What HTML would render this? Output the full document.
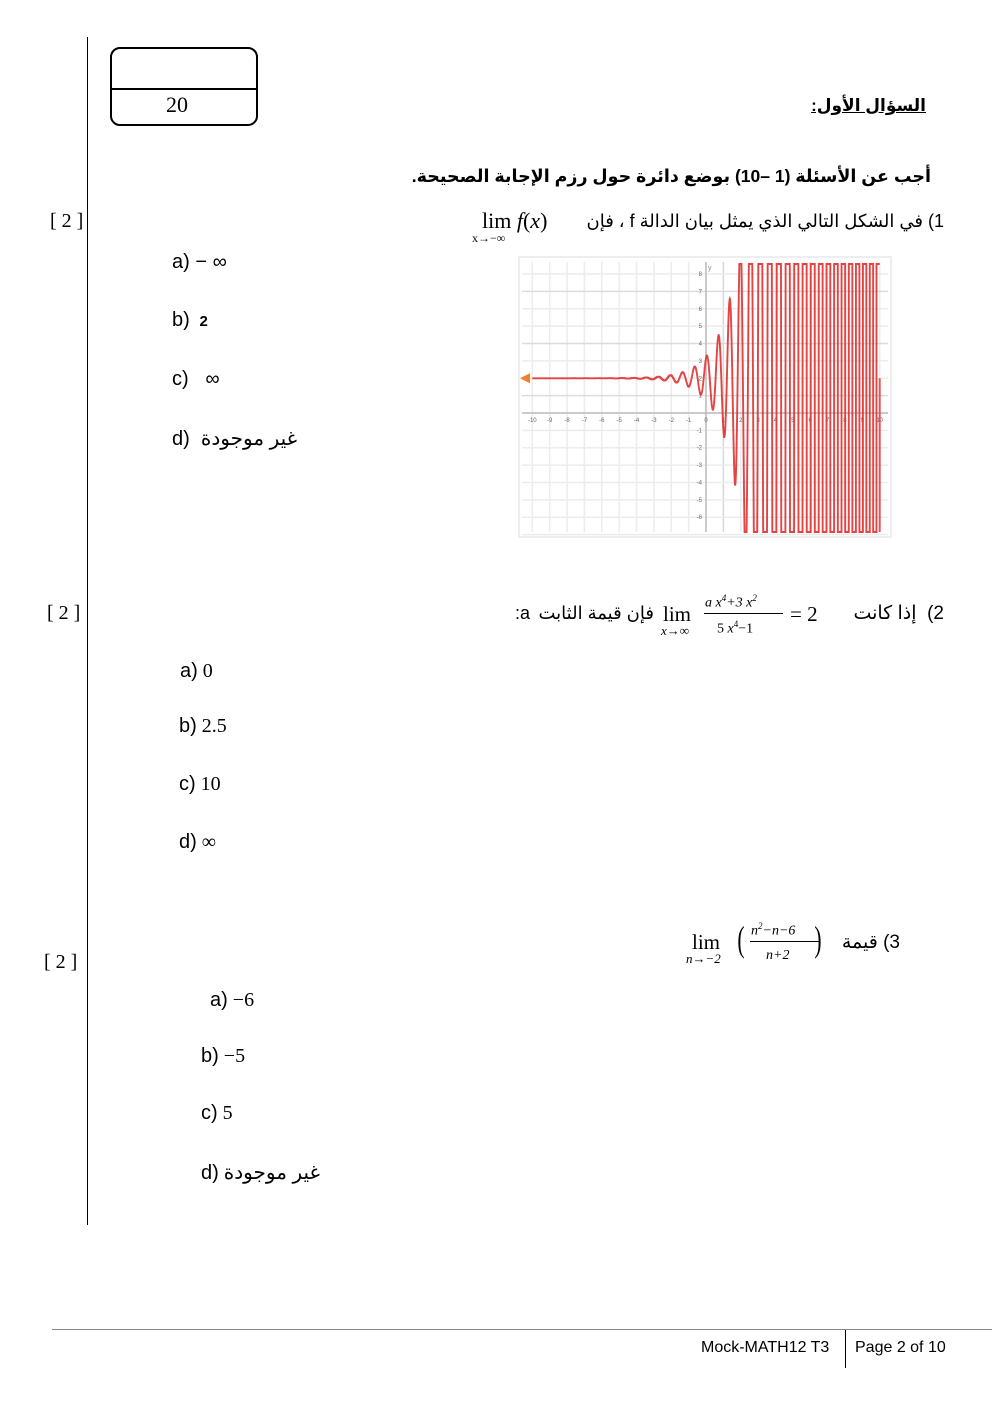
<!DOCTYPE html>
<html><head><meta charset="utf-8"><style>
body{margin:0;width:992px;height:1403px;background:#fff;position:relative;font-family:"Liberation Serif","Noto Sans CJK SC",serif;color:#000;overflow:hidden}
.a{position:absolute;white-space:nowrap}
.s{font-family:"Liberation Sans","DejaVu Sans",sans-serif}
.opt{font-size:20px}
</style></head><body>
<div class="a" style="left:87px;top:37px;width:1px;height:1188px;background:#000"></div>
<div class="a" style="left:110px;top:47px;width:144px;height:75px;border:2px solid #000;border-radius:10px"></div>
<div class="a" style="left:111px;top:88px;width:146px;height:2px;background:#000"></div>
<div class="a" style="left:166px;top:92px;font-size:22px">20</div>

<div class="a s" dir="rtl" style="right:66px;top:96px;font-size:17px;font-weight:bold;text-decoration:underline">السؤال الأول:</div>
<div class="a s" dir="rtl" style="right:61px;top:166px;font-size:17.5px;font-weight:bold">أجب عن الأسئلة (1 –10) بوضع دائرة حول رزم الإجابة الصحيحة.</div>
<div class="a" style="left:50px;top:210px;font-size:20px">[ 2 ]</div>
<div class="a s" dir="rtl" style="right:48px;top:211px;font-size:18px">1) في الشكل التالي الذي يمثل بيان الدالة f ، فإن</div>
<div class="a" style="left:482px;top:208px;font-size:22px">lim <i>f</i>(<i>x</i>)</div>
<div class="a" style="left:472px;top:231px;font-size:12px">x→−∞</div>

<div class="a s opt" style="left:172px;top:251px">a) − ∞</div>
<div class="a s opt" style="left:172px;top:309px">b) <b style="font-size:15px">&nbsp;2</b></div>
<div class="a s opt" style="left:172px;top:368px">c) &nbsp;&nbsp;∞</div>
<div class="a s opt" style="left:172px;top:426px">d) &nbsp;غير موجودة</div>

<svg class="a" style="left:518px;top:256px" width="374" height="282" id="g"></svg>

<div class="a" style="left:47px;top:602px;font-size:20px">[ 2 ]</div>
<div class="a s" dir="rtl" style="right:48px;top:602px;font-size:19px">2)&nbsp;&nbsp;إذا كانت</div>
<div class="a" style="left:663px;top:602px;font-size:21px">lim</div>
<div class="a" style="left:661px;top:623px;font-size:13px;font-style:italic">x→∞</div>
<div class="a" style="left:705px;top:593px;font-size:14px;font-style:italic">a x<sup style="font-size:9px">4</sup>+3 x<sup style="font-size:9px">2</sup></div>
<div class="a" style="left:704px;top:613px;width:79px;height:1px;background:#000"></div>
<div class="a" style="left:717px;top:619px;font-size:14px">5 <i>x</i><sup style="font-size:9px">4</sup>−1</div>
<div class="a" style="left:790px;top:602px;font-size:21px">= 2</div>
<div class="a s" style="left:515px;top:603px;font-size:18px">:a</div>
<div class="a s" dir="rtl" style="right:338px;top:603px;font-size:18px">فإن قيمة الثابت</div>

<div class="a opt" style="left:180px;top:660px"><span class="s">a)</span> 0</div>
<div class="a opt" style="left:179px;top:715px"><span class="s">b)</span> 2.5</div>
<div class="a opt" style="left:179px;top:773px"><span class="s">c)</span> 10</div>
<div class="a opt" style="left:179px;top:831px"><span class="s">d)</span> ∞</div>

<div class="a" style="left:44px;top:951px;font-size:20px">[ 2 ]</div>
<div class="a" style="left:692px;top:930px;font-size:21px">lim</div>
<div class="a" style="left:686px;top:951px;font-size:13px;font-style:italic">n→−2</div>
<div class="a" style="left:735px;top:918px;font-size:36px;font-weight:100;transform:scaleX(0.6)">(</div>
<div class="a" style="left:812px;top:918px;font-size:36px;font-weight:100;transform:scaleX(0.6)">)</div>
<div class="a" style="left:751px;top:921px;font-size:14px;font-style:italic">n<sup style="font-size:9px">2</sup>−n−6</div>
<div class="a" style="left:750px;top:941px;width:70px;height:1px;background:#000"></div>
<div class="a" style="left:766px;top:948px;font-size:14px;font-style:italic">n+2</div>
<div class="a s" dir="rtl" style="right:92px;top:931px;font-size:19px">3) قيمة</div>

<div class="a opt" style="left:210px;top:989px"><span class="s">a)</span> −6</div>
<div class="a opt" style="left:201px;top:1045px"><span class="s">b)</span> −5</div>
<div class="a opt" style="left:201px;top:1102px"><span class="s">c)</span> 5</div>
<div class="a opt" style="left:201px;top:1160px"><span class="s">d)</span> <span class="s">غير موجودة</span></div>

<div class="a" style="left:52px;top:1329px;width:940px;height:1px;background:#888"></div>
<div class="a" style="left:845px;top:1330px;width:1px;height:38px;background:#000"></div>
<div class="a s" style="left:701px;top:1339px;font-size:16px">Mock-MATH12 T3</div>
<div class="a s" style="left:855px;top:1339px;font-size:16px">Page 2 of 10</div>

<script>
(function(){
var g=document.getElementById('g'),h='';
var ox=706-518,oy=413-256,u=17.37;
h+='<rect x="1" y="1" width="372" height="280" fill="#fff" stroke="#eee" stroke-width="2"/>';
for(var i=-10;i<=10;i++){var x=ox+i*u;h+='<line x1="'+x+'" y1="6" x2="'+x+'" y2="276" stroke="'+(i%5==1?'#d8d8d8':'#ececec')+'" stroke-width="1.5"/>';}
for(var j=-7;j<=8;j++){var y=oy-j*u;h+='<line x1="4" y1="'+y+'" x2="370" y2="'+y+'" stroke="'+(j%3==1?'#dcdcdc':'#ececec')+'" stroke-width="1.5"/>';}
h+='<line x1="4" y1="'+oy+'" x2="370" y2="'+oy+'" stroke="#bbb" stroke-width="1.5"/>';
h+='<line x1="'+ox+'" y1="6" x2="'+ox+'" y2="276" stroke="#bbb" stroke-width="1.5"/>';
for(var i=-10;i<=10;i++){h+='<text x="'+(ox+i*u)+'" y="'+(oy+9)+'" font-size="6" fill="#666" text-anchor="middle" font-family="Liberation Sans">'+i+'</text>';}
for(var j=-6;j<=8;j++){if(j==0)continue;h+='<text x="'+(ox-4)+'" y="'+(oy-j*u+2)+'" font-size="6" fill="#666" text-anchor="end" font-family="Liberation Sans">'+j+'</text>';}
h+='<text x="'+(ox+2)+'" y="14" font-size="7" fill="#888" font-family="Liberation Sans">y</text>';
var p='';
for(var x=-10;x<=10;x+=0.002){
 var A=1.25*Math.exp(0.95*x), ph=9*x+(x>0?0.375*x*x:0);
 var v=2+A*Math.sin(ph+1.2);
 var y=oy-v*u; if(y<8)y=8; if(y>276)y=276;
 p+=(p?'L':'M')+(ox+x*u).toFixed(2)+','+y.toFixed(1);
}
h+='<path d="'+p+'" fill="none" stroke="#e03030" stroke-width="1.9" opacity="0.9"/>';
h+='<line x1="'+(ox+10*u)+'" y1="'+(oy-2*u)+'" x2="'+(ox+10*u)+'" y2="276" stroke="#e03030" stroke-width="2" opacity="0.8"/>';
h+='<polygon points="2,'+(oy-2*u)+' 12,'+(oy-2*u-5)+' 12,'+(oy-2*u+5)+'" fill="#f08030"/>';
g.innerHTML=h;
})();
</script>
</body></html>
